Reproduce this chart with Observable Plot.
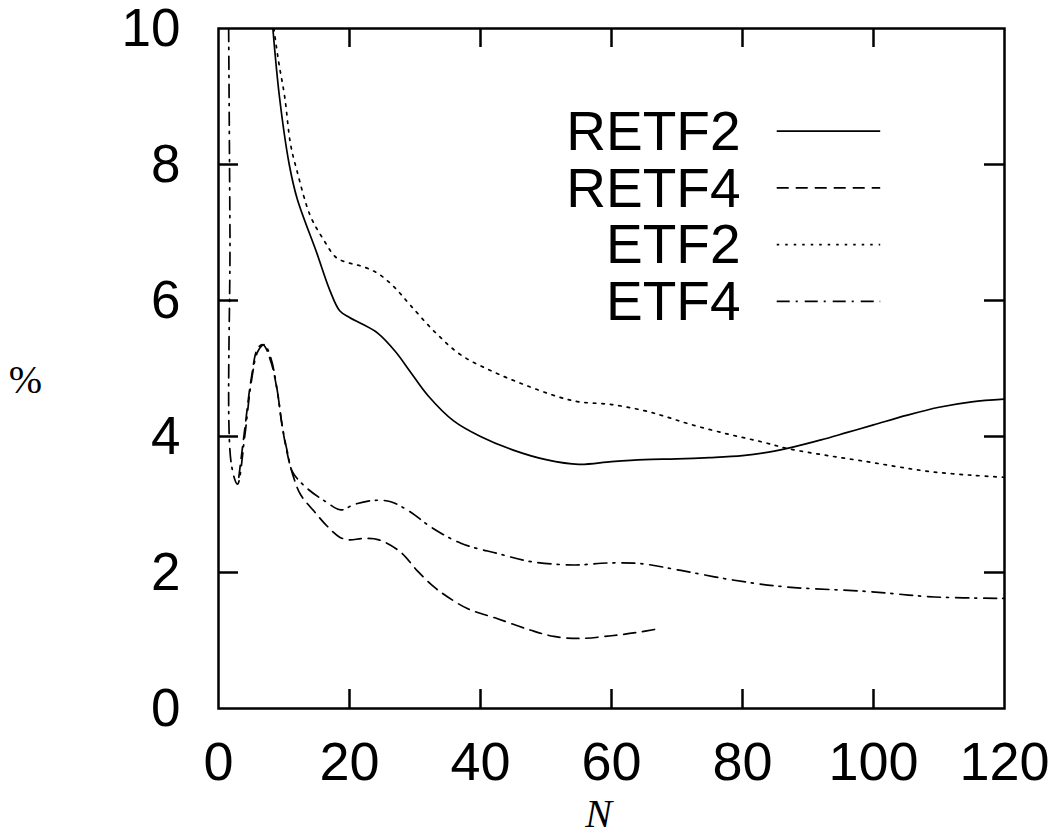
<!DOCTYPE html>
<html>
<head>
<meta charset="utf-8">
<script src="https://cdn.jsdelivr.net/npm/d3@7"></script>
<script src="https://cdn.jsdelivr.net/npm/@observablehq/plot@0.6"></script>
<style>
  body { margin: 0; background: #fff; }
  svg { display: block; }
</style>
</head>
<body>
<div id="chart"></div>
<script>
// Series values: [N, %]
const RETF2 = [[8.3,10],[9.3,9.0],[10.8,8.0],[12,7.5],[15,6.7],[17,6.15],[18.5,5.85],[20,5.75],[22,5.65],[24.3,5.52],[27,5.25],[29.3,4.95],[32,4.6],[35.9,4.23],[40,4.0],[45,3.8],[50,3.66],[55,3.59],[60,3.63],[65,3.66],[70,3.67],[75,3.69],[80,3.72],[84,3.77],[88,3.85],[92,3.95],[96,4.06],[100,4.17],[105,4.31],[110,4.43],[115,4.51],[120,4.55]];
const RETF4 = [[3.1,3.4],[4,4.1],[5,4.85],[6,5.3],[6.8,5.35],[8,5.1],[9,4.65],[9.7,4.17],[10.5,3.75],[11.3,3.45],[12.5,3.15],[14.6,2.9],[16.6,2.68],[18.5,2.52],[20,2.48],[22,2.5],[24.5,2.48],[27.8,2.3],[30.4,2.02],[33,1.78],[35,1.64],[38,1.47],[42.6,1.32],[47.7,1.15],[51.2,1.06],[55,1.03],[60,1.07],[64,1.12],[67,1.17]];
const ETF2 = [[8.45,10],[9.2,9.5],[10.1,9.0],[11,8.3],[12,7.9],[14,7.25],[16,6.9],[18,6.63],[20,6.55],[22,6.5],[24.3,6.4],[26.8,6.2],[29.3,5.93],[33,5.54],[37,5.2],[42,4.95],[47,4.75],[52,4.58],[55,4.51],[60,4.47],[65,4.38],[68,4.3],[72,4.18],[78,4.03],[83,3.92],[87,3.82],[93,3.72],[99,3.63],[104,3.55],[109,3.48],[115,3.43],[120,3.4]];
const ETF4 = [[1.55,10],[1.75,7],[1.95,3.6],[2.9,3.3],[4,4.0],[5,4.8],[6,5.25],[7,5.35],[8,5.15],[9,4.66],[9.7,4.17],[10.5,3.78],[11.3,3.48],[13.5,3.24],[16.4,3.04],[18.7,2.92],[20.7,3.0],[23.7,3.06],[26.3,3.04],[29.3,2.89],[32.4,2.67],[37,2.43],[42.6,2.28],[47.7,2.16],[54.3,2.11],[59.4,2.14],[64.5,2.13],[70.6,2.03],[78.5,1.89],[86.4,1.79],[99.2,1.72],[109.3,1.64],[120,1.62]];

const seriesNames = ["RETF2", "RETF4", "ETF2", "ETF4"];
const seriesData = [RETF2, RETF4, ETF2, ETF4];
const dashes = [null, "12,7", "2.5,6", "13,6,2,7"];

const xTicks = [0, 20, 40, 60, 80, 100, 120];
const yTicks = [0, 2, 4, 6, 8, 10];

const W = 1059, H = 838;
const mL = 218, mR = 55, mT = 28, mB = 130;
const pxPerX = (W - mL - mR) / 120;
const pxPerY = (H - mT - mB) / 10;
const tickLenX = 20 / pxPerX; // inward tick length in data units
const tickLenY = 19 / pxPerY;

const font = "'Liberation Sans', Arial, Helvetica, sans-serif";

const legendX = 79.7, legendY0 = 8.49, legendStep = 0.834;
const legendRows = seriesNames.map((name, i) => ({name, i}));

const plot = Plot.plot({
  width: W, height: H,
  marginLeft: mL, marginRight: mR, marginTop: mT, marginBottom: mB,
  x: {domain: [0, 120]},
  y: {domain: [0, 10]},
  style: {fontFamily: font, background: "#fff", color: "#000", overflow: "visible"},
  marks: [
    ...seriesData.map((d, i) => Plot.line(d, {
      x: p => p[0], y: p => p[1],
      curve: "catmull-rom", stroke: "#000", strokeWidth: 1.7,
      strokeDasharray: dashes[i], clip: true
    })),
    // inward ticks
    Plot.ruleY(yTicks.slice(1, -1), {x1: 0, x2: tickLenX, stroke: "#000", strokeWidth: 2.5}),
    Plot.ruleY(yTicks.slice(1, -1), {x1: 120 - tickLenX, x2: 120, stroke: "#000", strokeWidth: 2.5}),
    Plot.ruleX(xTicks.slice(1, -1), {y1: 0, y2: tickLenY, stroke: "#000", strokeWidth: 2.5}),
    Plot.ruleX(xTicks.slice(1, -1), {y1: 10 - tickLenY, y2: 10, stroke: "#000", strokeWidth: 2.5}),
    Plot.frame({stroke: "#000", strokeWidth: 2.5}),
    Plot.axisY({ticks: yTicks, tickSize: 0, tickPadding: 38, fontSize: 53, label: null, tickFormat: d => String(d), dy: 1}),
    Plot.axisX({ticks: xTicks, tickSize: 0, tickPadding: 33, fontSize: 54, label: null, tickFormat: d => String(d)}),
    // axis titles
    Plot.text(["%"], {frameAnchor: "left", dx: -193, dy: 12, fontSize: 40, fontFamily: "'Liberation Serif', 'DejaVu Serif', serif", textAnchor: "middle"}),
    Plot.text(["N"], {frameAnchor: "bottom", dx: -13, dy: 106, fontSize: 40, fontFamily: "'Liberation Serif', 'DejaVu Serif', serif", fontStyle: "italic", textAnchor: "middle", lineAnchor: "middle"}),
    // legend
    Plot.text(legendRows, {x: () => legendX, y: d => legendY0 - d.i * legendStep, text: d => d.name, textAnchor: "end", fontSize: 55, lineAnchor: "middle", dy: 1}),
    ...legendRows.map(d => Plot.ruleY([legendY0 - d.i * legendStep], {x1: 85.3, x2: 101.1, stroke: "#000", strokeWidth: 1.7, strokeDasharray: dashes[d.i]}))
  ]
});
document.getElementById("chart").appendChild(plot);
</script>
</body>
</html>
